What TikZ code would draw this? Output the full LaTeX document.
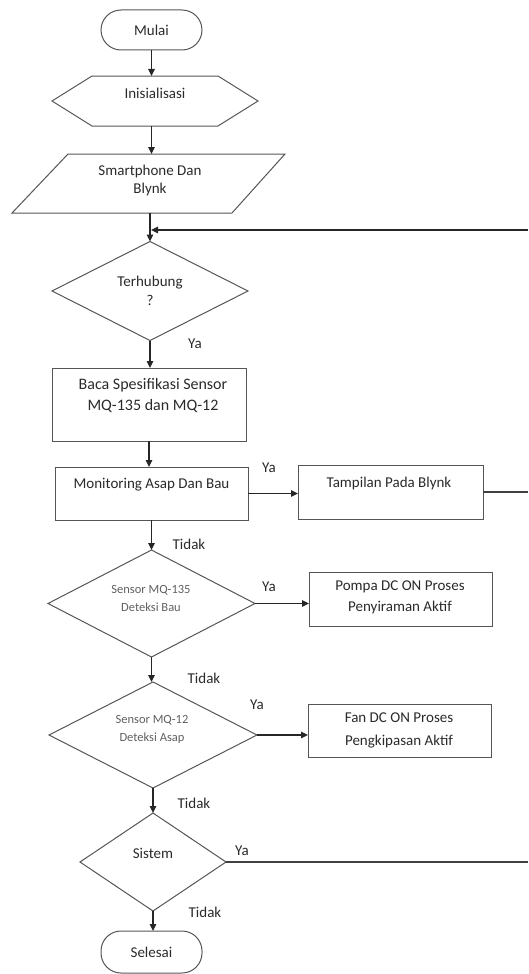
\documentclass[tikz,border=0pt]{standalone}
\usepackage{fontspec}
\setmainfont{Carlito}
\usetikzlibrary{arrows.meta,shapes.geometric}
\definecolor{edge}{HTML}{555555}
\definecolor{ink}{HTML}{2A2A2A}
\definecolor{soft}{HTML}{606060}
\begin{document}
\begin{tikzpicture}[x=1pt,y=-1pt,
  shp/.style={draw=edge,line width=1pt,inner sep=0pt,outer sep=0pt},
  boxx/.style={shp,rectangle,minimum width=#1},
  term/.style={shp,rectangle,rounded corners=20pt,minimum width=101pt,font=\fontsize{15}{21}\selectfont,text=ink},
  ghost/.style={rectangle,inner sep=0pt,outer sep=0pt},
  dec/.style={shp,diamond,aspect=2},
  txt/.style={align=center,inner sep=0pt,font=\fontsize{15}{22}\selectfont,text=ink},
  stxt/.style={align=center,inner sep=0pt,font=\fontsize{12.5}{18}\selectfont,text=soft},
  lbl/.style={inner sep=0pt,font=\fontsize{15}{18}\selectfont,text=ink},
  arr/.style={draw=black!85,line width=1.3pt,-{Triangle[length=7pt,width=6.5pt]}},
  ln/.style={draw=black!75,line width=1.3pt}]
\useasboundingbox (0,0) rectangle (528,974);

% start
\node[term,minimum height=40pt] (mulai) at (151.5,30) {Mulai};

% hexagon
\node[ghost,minimum width=206pt,minimum height=50pt] (ini) at (155,101) {};
\draw[draw=edge,line width=1pt] ([xshift=40pt]ini.north west) -- ([xshift=-40pt]ini.north east)
  -- (ini.east) -- ([xshift=-40pt]ini.south east) -- ([xshift=40pt]ini.south west)
  -- (ini.west) -- cycle;
\node[txt] (ini-t) at (155,93) {Inisialisasi};

% parallelogram
\node[ghost,minimum width=273pt,minimum height=59pt] (par) at (148.5,183.5) {};
\draw[draw=edge,line width=1pt] ([xshift=56pt]par.north west) -- (par.north east)
  -- ([xshift=-53pt]par.south east) -- (par.south west) -- cycle;
\node[txt,font=\fontsize{15}{18}\selectfont] (par-t) at (150,180) {Smartphone Dan\\Blynk};

% decision Terhubung
\node[dec,minimum width=196pt,minimum height=99pt] (terh) at (150,291) {};
\node[txt,font=\fontsize{15}{19}\selectfont] (terh-t) at (150,290.5) {Terhubung\\?};

% Baca
\node[boxx=194pt,minimum height=73pt] (baca) at (149,404.5) {};
\node[txt,font=\fontsize{16}{21}\selectfont] (baca-t) at (153,395) {Baca Spesifikasi Sensor\\MQ-135 dan MQ-12};

% Monitoring
\node[boxx=193pt,minimum height=53pt] (mon) at (151.5,493.5) {};
\node[txt] (mon-t) at (151.5,485) {Monitoring Asap Dan Bau};

% Tampilan
\node[boxx=185pt,minimum height=54pt] (tamp) at (390.5,492) {};
\node[txt] (tamp-t) at (389,483) {Tampilan Pada Blynk};

% MQ-135
\node[dec,minimum width=207pt,minimum height=107pt] (mqa) at (151.5,603.5) {};
\node[stxt] (mqa-t) at (151,598) {Sensor MQ-135\\Deteksi Bau};

% Pompa
\node[boxx=183pt,minimum height=54pt] (pompa) at (400.5,599) {};
\node[txt,font=\fontsize{15}{21}\selectfont] (pompa-t) at (400,597.5) {Pompa DC ON Proses\\Penyiraman Aktif};

% MQ-12
\node[dec,minimum width=208pt,minimum height=106pt] (mqb) at (153,735) {};
\node[stxt] (mqb-t) at (152,729) {Sensor MQ-12\\Deteksi Asap};

% Fan
\node[boxx=183pt,minimum height=53pt] (fan) at (399.5,730.5) {};
\node[txt,font=\fontsize{15}{23}\selectfont] (fan-t) at (399,730.5) {Fan DC ON Proses\\Pengkipasan Aktif};

% Sistem
\node[dec,minimum width=146pt,minimum height=98pt] (sis) at (153,862) {};
\node[txt] (sis-t) at (153,853) {Sistem};

% end
\node[term,minimum height=42pt] (sel) at (151.5,952) {Selesai};

% right edge return line
\coordinate (ret) at (528,230);
\coordinate (jn) at (terh.north |- ret);

% connectors
\draw[arr] (mulai.south) -- (mulai.south |- ini.north);
\draw[arr] (mulai.south |- ini.south) -- (mulai.south |- par.north);
\draw[arr] (terh.north |- par.south) -- (terh.north);
\draw[arr,shorten >=1pt] (ret) -- (jn);
\draw[arr] (terh.south) -- (terh.south |- baca.north);
\draw[arr] (baca.south) -- (baca.south |- mon.north);
\draw[arr] (mon.east) -- (mon.east -| tamp.west);
\draw[ln] (tamp.east) -- (tamp.east -| ret);
\draw[arr] (mon.south) -- (mon.south |- mqa.north);
\draw[arr] (mqa.east) -- (mqa.east -| pompa.west);
\draw[arr] (mqa.south) -- (mqa.south |- mqb.north);
\draw[arr] (mqb.east) -- (mqb.east -| fan.west);
\draw[arr] (mqb.south) -- (mqb.south |- sis.north);
\draw[ln] (sis.east) -- (sis.east -| ret);
\draw[arr] (sis.south) -- (sis.south |- sel.north);

% branch labels
\node[lbl] (ya1) at (195,344) {Ya};
\node[lbl] (ya2) at (269,468) {Ya};
\node[lbl] (td1) at (189,544) {Tidak};
\node[lbl] (ya3) at (269,587) {Ya};
\node[lbl] (td2) at (204,678) {Tidak};
\node[lbl] (ya4) at (257,705) {Ya};
\node[lbl] (td3) at (194,803) {Tidak};
\node[lbl] (ya5) at (242,851) {Ya};
\node[lbl] (td4) at (205,912) {Tidak};
\end{tikzpicture}
\end{document}
